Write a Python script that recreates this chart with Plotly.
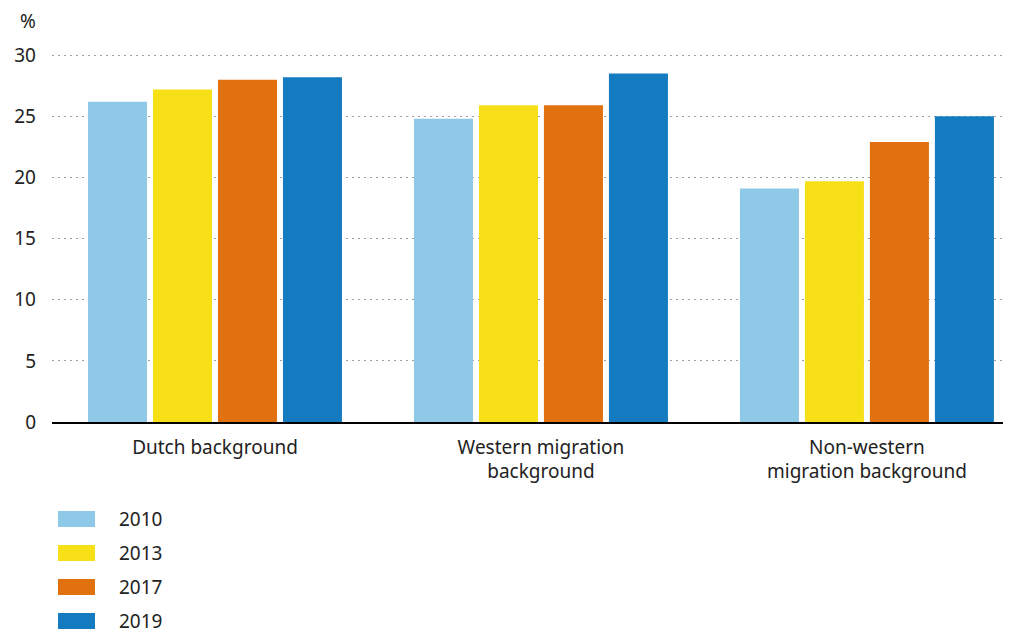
import plotly.graph_objects as go

categories = ["Dutch background", "Western migration<br>background", "Non-western<br>migration background"]
years = ["2010", "2013", "2017", "2019"]
values = {
    "2010": [26.2, 24.8, 19.1],
    "2013": [27.2, 25.9, 19.7],
    "2017": [28.0, 25.9, 22.9],
    "2019": [28.2, 28.5, 25.0],
}
colors = ["#8fc9e8", "#f7e017", "#e1700e", "#147bc1"]
y_ticks = [0, 5, 10, 15, 20, 25, 30]

# page body has an 8px margin; figure is sized to end at the window edge
OFF = 8
W, H = 1011 - OFF, 633 - OFF
Y_TOP = 30.1
ML, MR, MT, MB = 52 - OFF, 0, 54 - OFF, 633 - 422
FONT = "Noto Sans"
TXT = "#222222"

fig = go.Figure()
for yr, col in zip(years, colors):
    fig.add_trace(go.Bar(x=list(range(len(categories))), y=values[yr], name=yr,
                         marker=dict(color=col, line=dict(width=0)), showlegend=False))

plot_h = H - MT - MB
plot_w = W - ML - MR


def px_x(x):
    return (x - OFF - ML) / plot_w


def px_y(y):
    return (H - MB - (y - OFF)) / plot_h


# custom legend (wide swatches)
for i, (yr, col) in enumerate(zip(years, colors)):
    cy = 519 + i * 34
    fig.add_shape(type="rect", xref="paper", yref="paper", x0=px_x(58), x1=px_x(95),
                  y0=px_y(cy + 8), y1=px_y(cy - 8), fillcolor=col, line=dict(width=0))
    fig.add_annotation(xref="paper", yref="paper", x=px_x(117), y=px_y(cy), text=yr,
                       showarrow=False, xanchor="left", yanchor="middle",
                       font=dict(family=FONT, size=19, color=TXT))

fig.add_annotation(xref="paper", yref="paper", x=px_x(18), y=px_y(21), text="%",
                   showarrow=False, xanchor="left", yanchor="middle",
                   font=dict(family=FONT, size=19, color=TXT))

fig.update_layout(
    width=W, height=H,
    margin=dict(l=ML, r=MR, t=MT, b=MB, pad=0),
    paper_bgcolor="white", plot_bgcolor="white",
    barmode="group", bargap=0.2025, bargroupgap=0.092,
    font=dict(family=FONT, size=19, color=TXT),
    xaxis=dict(tickmode="array", tickvals=list(range(len(categories))), ticktext=categories,
               range=[-0.5, 2.442], showgrid=False, showline=True, linecolor="#000000",
               linewidth=1.5, ticks="", ticklabelstandoff=7, fixedrange=True,
               tickfont=dict(size=19)),
    yaxis=dict(range=[0, Y_TOP], tickvals=y_ticks, showgrid=True, gridcolor="#a0a0a0",
               griddash="2px,4px", gridwidth=1, zeroline=False, showline=False, ticks="",
               ticklabelstandoff=15, fixedrange=True, tickfont=dict(size=19)),
)

fig.write_html("out.html")
